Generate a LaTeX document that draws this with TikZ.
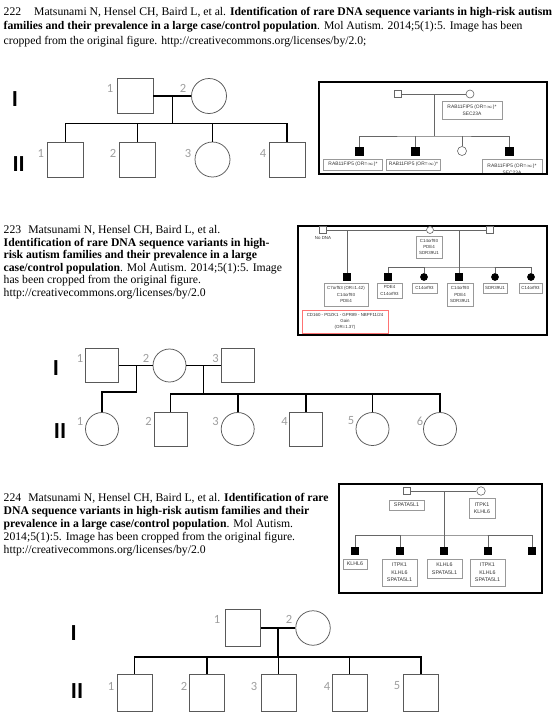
\documentclass[tikz,border=0pt]{standalone}
\usepackage{fontspec}
\setmainfont{Liberation Serif}
\newfontfamily\calfont{Carlito}
\newfontfamily\lsans{Liberation Sans}
\begin{document}
\begin{tikzpicture}[x=1pt,y=-1pt,
  psq/.style={rectangle, draw=black!65, line width=0.75pt, fill=white, minimum width=36pt, minimum height=35pt, inner sep=0pt},
  pci/.style={circle, draw=black!65, line width=0.75pt, fill=white, minimum size=35pt, inner sep=0pt},
  pl/.style={line width=1.7pt, black},
  num/.style={font=\calfont\fontsize{12.5}{12.5}\selectfont, text=black!38, inner sep=0pt},
  gen/.style={font=\calfont\bfseries\fontsize{23}{23}\selectfont, inner sep=0pt},
  txt/.style={font=\fontsize{11.7}{12}\selectfont, anchor=base west, inner sep=0pt},
  frame/.style={draw=black, line width=1.2pt, rectangle, inner sep=0pt},
  ssq/.style={rectangle, draw=black!60, line width=0.6pt, fill=white, minimum size=7pt, inner sep=0pt},
  sci/.style={circle, draw=black!60, line width=0.6pt, fill=white, minimum size=8pt, inner sep=0pt},
  fsq/.style={ssq, fill=black, draw=black},
  fci/.style={sci, fill=black, draw=black},
  sl/.style={line width=0.7pt, black!60},
  lab/.style={rectangle, draw=black!40, line width=0.5pt, fill=white, align=center, inner sep=0.5pt, text=black!80},
  fa/.style={font=\lsans\fontsize{4.9}{6.5}\selectfont},
  fb/.style={font=\lsans\fontsize{4.4}{6.2}\selectfont},
  fc/.style={font=\lsans\fontsize{5.3}{7.4}\selectfont},
]
\useasboundingbox (0,0) rectangle (552,718);
\fill[white] (0,0) rectangle (552,718);

% ---------- text blocks ----------
\node[txt] (t1a) at (3.5,15.8) {222\hspace{1.1em}Matsunami N, Hensel CH, Baird L, et al. \textbf{Identification of rare DNA sequence variants in high-risk autism}};
\node[txt] (t1b) at (3.5,29.9) {\textbf{families and their prevalence in a large case/control population}. Mol Autism. 2014;5(1):5. Image has been};
\node[txt] (t1c) at (3.5,44.0) {cropped from the original figure. http://creativecommons.org/licenses/by/2.0;};

\node[txt] (t2a) at (3.5,233.5) {223\hspace{0.6em}Matsunami N, Hensel CH, Baird L, et al.};
\node[txt] (t2b) at (3.5,246) {\textbf{Identification of rare DNA sequence variants in high-}};
\node[txt] (t2c) at (3.5,258.5) {\textbf{risk autism families and their prevalence in a large}};
\node[txt] (t2d) at (3.5,271) {\textbf{case/control population}. Mol Autism. 2014;5(1):5. Image};
\node[txt] (t2e) at (3.5,283.5) {has been cropped from the original figure.};
\node[txt] (t2f) at (3.5,296) {http://creativecommons.org/licenses/by/2.0};

\node[txt] (t3a) at (3.5,501.5) {224\hspace{0.6em}Matsunami N, Hensel CH, Baird L, et al. \textbf{Identification of rare}};
\node[txt] (t3b) at (3.5,514.5) {\textbf{DNA sequence variants in high-risk autism families and their}};
\node[txt] (t3c) at (3.5,527.5) {\textbf{prevalence in a large case/control population}. Mol Autism.};
\node[txt] (t3d) at (3.5,540.5) {2014;5(1):5. Image has been cropped from the original figure.};
\node[txt] (t3e) at (3.5,553.5) {http://creativecommons.org/licenses/by/2.0};

% ---------- pedigree 1 ----------
\node[gen] (g1a) at (15,99) {I};
\node[gen] (g1b) at (18.7,164) {II};
\node[psq] (p1a) at (135,96) {};
\node[pci] (p1b) at (209,96) {};
\coordinate (p1m) at (172.5,96);
\coordinate (p1s) at (172.5,123.5);
\node[psq] (p1c) at (65.5,159.5) {};
\node[psq] (p1d) at (137.5,159.5) {};
\node[pci] (p1e) at (212.5,159.5) {};
\node[psq] (p1f) at (287,159.5) {};
\draw[pl] (p1a) -- (p1b);
\draw[pl] (p1m) -- (p1s);
\draw[pl] (p1c.north) |- (p1s) -| (p1f.north);
\draw[pl] (p1d.north) -- (p1d.north |- p1s);
\draw[pl] (p1e.north) -- (p1e.north |- p1s);
\node[num] (n1a) at (110,88) {1};
\node[num] (n1b) at (183,88) {2};
\node[num] (n1c) at (40.7,153) {1};
\node[num] (n1d) at (113,153) {2};
\node[num] (n1e) at (188,153) {3};
\node[num] (n1f) at (263,153) {4};

% ---------- inset 1 ----------
\node[ssq] (b1a) at (398,94) {};
\node[sci] (b1b) at (470,94) {};
\draw[sl] (b1a) -- (b1b);
\coordinate (b1m) at (434,94);
\coordinate (b1s) at (434,136);
\node[fsq, minimum size=8pt] (b1c) at (359,151) {};
\node[fsq, minimum size=8pt] (b1d) at (415,151) {};
\node[sci, minimum size=9pt] (b1e) at (462,151) {};
\node[fsq, minimum size=8pt] (b1f) at (509,151) {};
\draw[sl] (b1m) -- (b1s);
\draw[sl] (b1c.north) |- (b1s) -| (b1f.north);
\draw[sl] (b1d.north) -- (b1d.north |- b1s);
\draw[sl] (b1e.north) -- (b1e.north |- b1s);
\node[lab, fa, minimum width=60pt, minimum height=18pt] (b1g) at (472,110) {RAB11FIP5 (OR=$\infty$)*\\SEC23A};
\node[lab, fa, minimum width=59pt, minimum height=11pt] (b1h) at (353,164.5) {RAB11FIP5 (OR=$\infty$)*};
\node[lab, fa, minimum width=54pt, minimum height=11pt] (b1i) at (413.5,164.5) {RAB11FIP5 (OR=$\infty$)*};
\begin{scope}
\clip (320,83) rectangle (546,173.4);
\node[lab, fa, minimum width=60pt, minimum height=20pt] (b1j) at (512,169) {RAB11FIP5 (OR=$\infty$)*\\SEC23A};
\end{scope}
\node[frame, minimum width=228pt, minimum height=92pt] (f1) at (433,128) {};

% ---------- inset 2 ----------
\node[frame, minimum width=249pt, minimum height=109pt] (f2) at (422.5,280.5) {};
\node[ssq, minimum size=6.5pt] (b2a) at (323,230) {};
\node[sci, minimum size=7pt] (b2b) at (430,230) {};
\node[ssq, minimum size=6.5pt] (b2c) at (490,230) {};
\draw[sl] (b2a) -- (b2b);
\draw[sl] (b2b) -- (b2c);
\node[fb, text=black!80, inner sep=0pt] (b2n) at (323,238.5) {No DNA};
\coordinate (b2m1) at (347,230);
\coordinate (b2m2) at (459,230);
\coordinate (b2s) at (459,267);
\node[fsq, minimum size=6.5pt] (b2d) at (347,277) {};
\node[fsq, minimum size=6.5pt] (b2e) at (388,277) {};
\node[fci, minimum size=7pt] (b2f) at (424,277) {};
\node[fsq, minimum size=6.5pt] (b2g) at (459,277) {};
\node[fci, minimum size=7pt] (b2h) at (495,277) {};
\node[fci, minimum size=7pt] (b2j) at (531,277) {};
\draw[sl] (b2m1) -- (b2d.north);
\draw[sl] (b2m2) -- (b2g.north);
\draw[sl] (b2e.north) |- (b2s) -| (b2j.north);
\draw[sl] (b2f.north) -- (b2f.north |- b2s);
\draw[sl] (b2h.north) -- (b2h.north |- b2s);
\node[lab, fb, minimum width=26pt, minimum height=22pt] (b2k) at (429,247) {C14orf93\\PDE4\\SDR39U1};
\node[lab, fb, minimum width=44pt, minimum height=23pt] (b2l) at (346,294.5) {C7orf53 (OR=1.42)\\C14orf93\\PDE4};
\node[lab, fb, minimum width=25pt, minimum height=15pt] (b2o) at (389.5,290.5) {PDE4\\C14orf93};
\node[lab, fb, minimum width=25pt, minimum height=10pt] (b2p) at (424.5,288) {C14orf93};
\node[lab, fb, minimum width=26pt, minimum height=23pt] (b2q) at (460,294.5) {C14orf93\\PDE4\\SDR39U1};
\node[lab, fb, minimum width=24pt, minimum height=10pt] (b2r) at (495,288) {SDR39U1};
\node[lab, fb, minimum width=23pt, minimum height=10pt] (b2t) at (530.5,288) {C14orf93};
\node[lab, fb, draw=red!55, minimum width=86pt, minimum height=23pt] (b2u) at (345,321.5) {CD160 - PDZK1 - GPR89 - NBPF11/24\\Gain\\(OR=1.37)};

% ---------- pedigree 2 ----------
\node[gen] (g2a) at (56,368) {I};
\node[gen] (g2b) at (60,431) {II};
\node[psq, minimum width=33pt, minimum height=34pt] (p2a) at (102,365.5) {};
\node[pci, minimum size=33pt] (p2b) at (169.5,365.5) {};
\node[psq, minimum width=33pt, minimum height=34pt] (p2c) at (237.5,365.5) {};
\coordinate (p2m1) at (136.5,365.5);
\coordinate (p2k) at (136.5,392);
\coordinate (p2m2) at (203.5,365.5);
\coordinate (p2s) at (203.5,394);
\node[pci, minimum size=33pt] (p2d) at (102,429) {};
\node[psq, minimum width=33pt, minimum height=34pt] (p2e) at (170.5,429) {};
\node[pci, minimum size=33pt] (p2f) at (237.7,429) {};
\node[psq, minimum width=33pt, minimum height=34pt] (p2g) at (306,429) {};
\node[pci, minimum size=33pt] (p2h) at (372.5,429) {};
\node[pci, minimum size=33pt] (p2i) at (440,429) {};
\draw[pl] (p2a) -- (p2b);
\draw[pl] (p2b) -- (p2c);
\draw[pl] (p2m1) -- (p2k) -| (p2d.north);
\draw[pl] (p2m2) -- (p2s);
\draw[pl] (p2e.north) |- (p2s) -| (p2i.north);
\draw[pl] (p2f.north) -- (p2f.north |- p2s);
\draw[pl] (p2g.north) -- (p2g.north |- p2s);
\draw[pl] (p2h.north) -- (p2h.north |- p2s);
\node[num] (n2a) at (80,358) {1};
\node[num] (n2b) at (146,358) {2};
\node[num] (n2c) at (215.5,358) {3};
\node[num] (n2d) at (80,421) {1};
\node[num] (n2e) at (148.6,421) {2};
\node[num] (n2f) at (215.5,421) {3};
\node[num] (n2g) at (284.5,421) {4};
\node[num] (n2h) at (351,421) {5};
\node[num] (n2i) at (420,421) {6};

% ---------- inset 3 ----------
\node[frame, minimum width=203pt, minimum height=109pt] (f3) at (440.5,538.5) {};
\node[ssq, minimum size=7.5pt] (b3a) at (407,491) {};
\node[sci, minimum size=8.5pt] (b3b) at (481,491) {};
\draw[sl] (b3a) -- (b3b);
\coordinate (b3m) at (444,491);
\coordinate (b3s) at (444,535);
\node[fsq, minimum size=7.5pt] (b3c) at (355,550.7) {};
\node[fsq, minimum size=7.5pt] (b3d) at (400,550.7) {};
\node[fsq, minimum size=7.5pt] (b3e) at (444,550.7) {};
\node[fsq, minimum size=7.5pt] (b3f) at (488,550.7) {};
\node[fsq, minimum size=7.5pt] (b3g) at (532,550.7) {};
\draw[sl] (b3m) -- (b3e.north);
\draw[sl] (b3c.north) |- (b3s) -| (b3g.north);
\draw[sl] (b3d.north) -- (b3d.north |- b3s);
\draw[sl] (b3f.north) -- (b3f.north |- b3s);
\node[lab, fc, minimum width=35pt, minimum height=10pt] (b3h) at (406.5,505) {SPATA5L1};
\node[lab, fc, minimum width=26pt, minimum height=20pt] (b3i) at (482,508) {ITPK1\\KLHL6};
\node[lab, fc, minimum width=24pt, minimum height=10pt] (b3j) at (355,564) {KLHL6};
\node[lab, fc, minimum width=35pt, minimum height=27pt] (b3k) at (399.5,572.5) {ITPK1\\KLHL6\\SPATA5L1};
\node[lab, fc, minimum width=35pt, minimum height=19pt] (b3l) at (444.5,568.5) {KLHL6\\SPATA5L1};
\node[lab, fc, minimum width=35pt, minimum height=27pt] (b3o) at (487.5,572.5) {ITPK1\\KLHL6\\SPATA5L1};

% ---------- pedigree 3 ----------
\node[gen] (g3a) at (73.6,633) {I};
\node[gen] (g3b) at (77,690.6) {II};
\node[psq, minimum width=35pt, minimum height=37pt] (p3a) at (243,628) {};
\node[pci, minimum size=34.5pt] (p3b) at (313,628) {};
\coordinate (p3m) at (278,628);
\coordinate (p3s) at (278,657);
\node[psq, minimum width=35pt, minimum height=37pt] (p3c) at (134.5,692.5) {};
\node[psq, minimum width=35pt, minimum height=37pt] (p3d) at (207,692.5) {};
\node[psq, minimum width=35pt, minimum height=37pt] (p3e) at (278.5,692.5) {};
\node[psq, minimum width=35pt, minimum height=37pt] (p3f) at (349.5,692.5) {};
\node[psq, minimum width=35pt, minimum height=37pt] (p3g) at (421,692.5) {};
\draw[pl] (p3a) -- (p3b);
\draw[pl] (p3m) -- (p3s);
\draw[pl] (p3c.north) |- (p3s) -| (p3g.north);
\draw[pl] (p3d.north) -- (p3d.north |- p3s);
\draw[pl] (p3e.north) -- (p3e.north |- p3s);
\draw[pl] (p3f.north) -- (p3f.north |- p3s);
\node[num] (n3a) at (217,619) {1};
\node[num] (n3b) at (289,619) {2};
\node[num] (n3c) at (111,686) {1};
\node[num] (n3d) at (184,686) {2};
\node[num] (n3e) at (254,686) {3};
\node[num] (n3f) at (327,686) {4};
\node[num] (n3g) at (397,686) {5};
\end{tikzpicture}
\end{document}
